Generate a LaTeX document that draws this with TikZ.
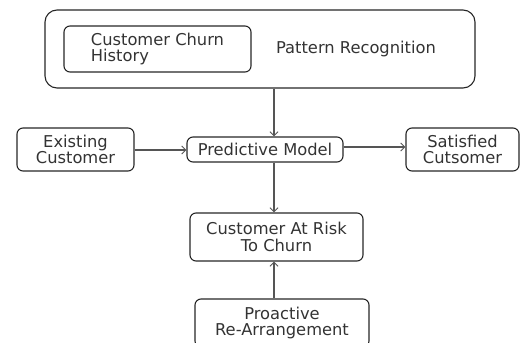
\documentclass[tikz,border=0pt]{standalone}
\usepackage{fontspec}
\setmainfont{DejaVu Sans}
\usetikzlibrary{arrows.meta}
\definecolor{txt}{HTML}{333333}
\definecolor{ln}{HTML}{555555}
\begin{document}
\begin{tikzpicture}[x=1pt,y=-1pt,
  box/.style={draw=black!85,line width=1.1pt,rounded corners=6pt,inner sep=0pt,
    text=txt,font=\fontsize{16.3}{16.5}\selectfont,align=center},
  conn/.style={draw=ln,line width=1.8pt,-{Straight Barb[length=4pt,width=8pt,line width=1pt]}}]
\clip (0,0) rectangle (520,343);
\useasboundingbox (0,0) rectangle (520,343);
\node[box,minimum width=430pt,minimum height=78pt,rounded corners=12pt] (outer) at (260,49) {};
\node[box,minimum width=187pt,minimum height=46pt,align=left] (hist) at (157.5,49) {Customer Churn\\History};
\node[text=txt,font=\fontsize{16.3}{16.5}\selectfont,inner sep=0pt] (pat) at (356,49) {Pattern Recognition};
\node[box,minimum width=156pt,minimum height=25pt] (pred) at (265,149.5) {Predictive Model};
\node[box,minimum width=117pt,minimum height=43pt] (exist) at (75.5,149.5) {Existing\\Customer};
\node[box,minimum width=113pt,minimum height=43pt] (sat) at (462.5,149.5) {Satisfied\\Cutsomer};
\node[box,minimum width=173pt,minimum height=48pt] (risk) at (276.5,237) {Customer At Risk\\To Churn};
\node[box,minimum width=174pt,minimum height=48pt] (pro) at (282,323) {Proactive\\Re-Arrangement};
\coordinate (vx) at (274,0);
\draw[conn] (outer.south -| vx) -- (pred.north -| vx);
\draw[conn] (pred.south -| vx) -- (risk.north -| vx);
\draw[conn] (pro.north -| vx) -- (risk.south -| vx);
\draw[conn] (exist.east |- 0,150) -- (pred.west |- 0,150);
\draw[conn] (pred.east |- 0,147) -- (sat.west |- 0,147);
\end{tikzpicture}
\end{document}
